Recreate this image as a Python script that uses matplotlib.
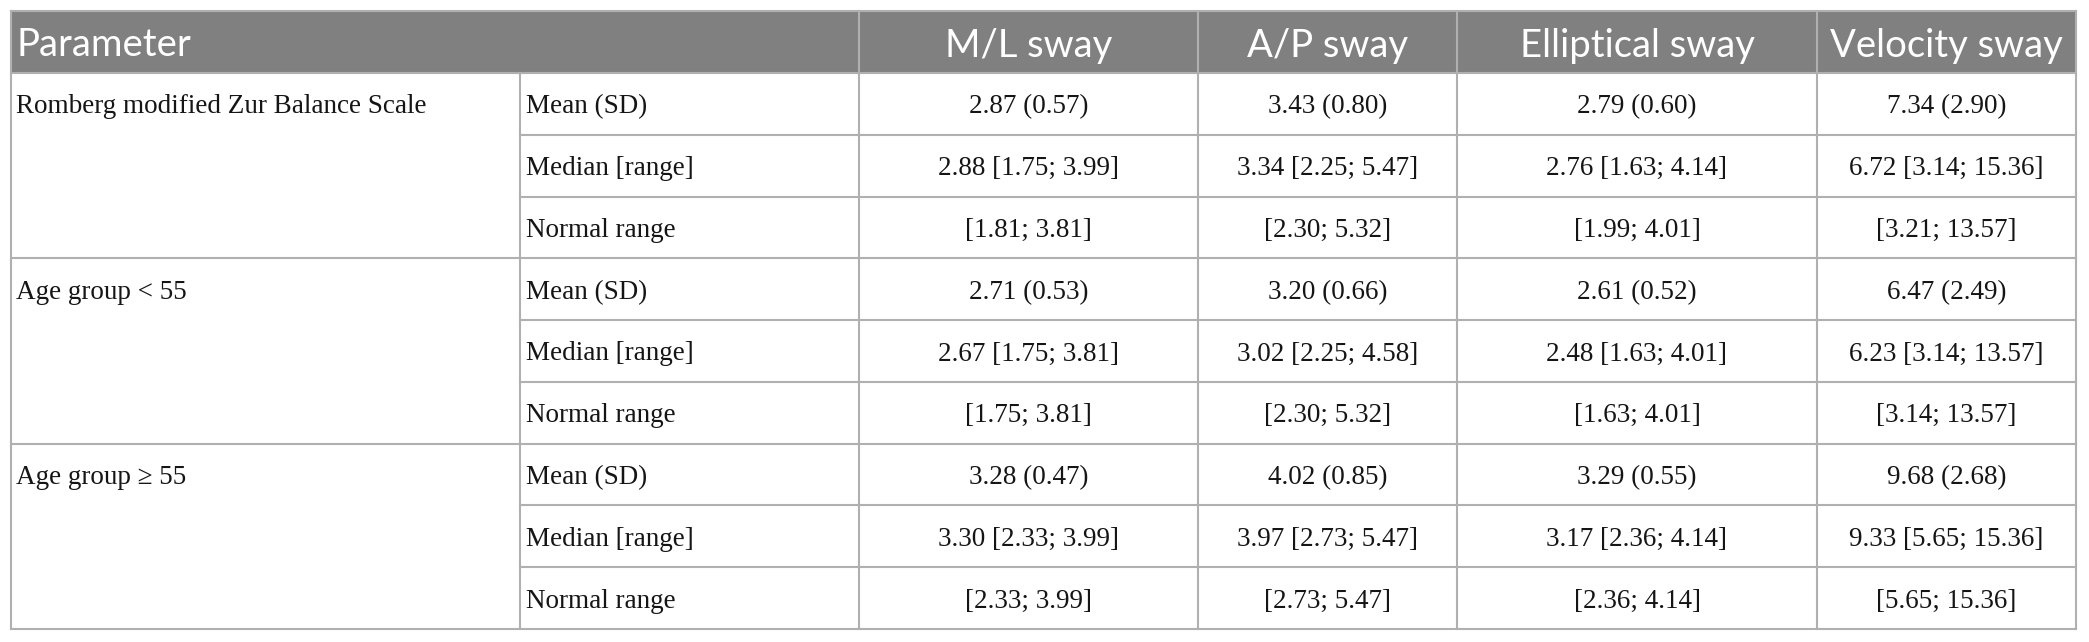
import matplotlib
matplotlib.use("Agg")
import matplotlib.pyplot as plt

header = ["Parameter", "M/L sway", "A/P sway", "Elliptical sway", "Velocity sway"]
groups = ["Romberg modified Zur Balance Scale", "Age group < 55", "Age group \u2265 55"]
stats = ["Mean (SD)", "Median [range]", "Normal range"]

ml_sway = ["2.87 (0.57)", "2.88 [1.75; 3.99]", "[1.81; 3.81]",
           "2.71 (0.53)", "2.67 [1.75; 3.81]", "[1.75; 3.81]",
           "3.28 (0.47)", "3.30 [2.33; 3.99]", "[2.33; 3.99]"]
ap_sway = ["3.43 (0.80)", "3.34 [2.25; 5.47]", "[2.30; 5.32]",
           "3.20 (0.66)", "3.02 [2.25; 4.58]", "[2.30; 5.32]",
           "4.02 (0.85)", "3.97 [2.73; 5.47]", "[2.73; 5.47]"]
ell_sway = ["2.79 (0.60)", "2.76 [1.63; 4.14]", "[1.99; 4.01]",
            "2.61 (0.52)", "2.48 [1.63; 4.01]", "[1.63; 4.01]",
            "3.29 (0.55)", "3.17 [2.36; 4.14]", "[2.36; 4.14]"]
vel_sway = ["7.34 (2.90)", "6.72 [3.14; 15.36]", "[3.21; 13.57]",
            "6.47 (2.49)", "6.23 [3.14; 13.57]", "[3.14; 13.57]",
            "9.68 (2.68)", "9.33 [5.65; 15.36]", "[5.65; 15.36]"]

W, H = 2089, 642
fig = plt.figure(figsize=(W / 100, H / 100), dpi=100)
ax = fig.add_axes([0, 0, 1, 1])
ax.set_xlim(0, W)
ax.set_ylim(H, 0)
ax.axis("off")

xs = [11, 520, 859, 1198, 1457, 1817, 2076]
top, hdr_bot, bot = 11, 73, 629
nrows = 9
rh = (bot - hdr_bot) / nrows
grid_c = "#b0b0b0"
lw = 1.5

# header background
ax.add_patch(plt.Rectangle((xs[0], top), xs[-1] - xs[0], hdr_bot - top,
                           facecolor="#808080", edgecolor="none", zorder=1))

sans = ["Lato", "DejaVu Sans"]
serif = ["Liberation Serif", "DejaVu Serif"]
hfs = 27.5
bfs = 19.5
hy = (top + hdr_bot) / 2
ax.text(xs[0] + 5, hy, header[0], color="white", fontsize=hfs, family=sans,
        ha="left", va="center_baseline", zorder=3)
for j in range(1, 5):
    cx = (xs[j + 1] + xs[j + 2]) / 2
    ax.text(cx, hy, header[j], color="white", fontsize=hfs, family=sans,
            ha="center", va="center_baseline", zorder=3)

cols = [ml_sway, ap_sway, ell_sway, vel_sway]
for i in range(nrows):
    cy = hdr_bot + (i + 0.5) * rh
    if i % 3 == 0:
        ax.text(xs[0] + 5, cy, groups[i // 3], fontsize=bfs, family=serif,
                ha="left", va="center_baseline", color="#151515", zorder=3)
    ax.text(xs[1] + 6, cy, stats[i % 3], fontsize=bfs, family=serif,
            ha="left", va="center_baseline", color="#151515", zorder=3)
    for j, col in enumerate(cols):
        cx = (xs[j + 2] + xs[j + 3]) / 2
        ax.text(cx, cy, col[i], fontsize=bfs, family=serif,
                ha="center", va="center_baseline", color="#151515", zorder=3)

# horizontal lines
ax.plot([xs[0], xs[-1]], [top, top], color=grid_c, lw=lw, zorder=2)
ax.plot([xs[0], xs[-1]], [hdr_bot, hdr_bot], color=grid_c, lw=lw, zorder=2)
for i in range(1, nrows):
    y = hdr_bot + i * rh
    x0 = xs[0] if i % 3 == 0 else xs[1]
    ax.plot([x0, xs[-1]], [y, y], color=grid_c, lw=lw, zorder=2)
ax.plot([xs[0], xs[-1]], [bot, bot], color=grid_c, lw=lw, zorder=2)

# vertical lines
ax.plot([xs[0], xs[0]], [top, bot], color=grid_c, lw=lw, zorder=2)
ax.plot([xs[-1], xs[-1]], [top, bot], color=grid_c, lw=lw, zorder=2)
ax.plot([xs[1], xs[1]], [hdr_bot, bot], color=grid_c, lw=lw, zorder=2)
for x in xs[2:-1]:
    ax.plot([x, x], [top, bot], color=grid_c, lw=lw, zorder=2)

fig.savefig("out.png", dpi=100, facecolor="white")
